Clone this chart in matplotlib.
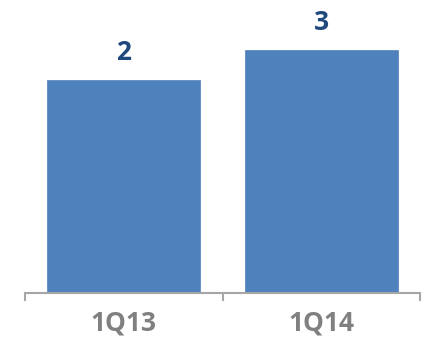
import matplotlib
matplotlib.use("Agg")
import matplotlib.pyplot as plt
import numpy as np

categories = ["1Q13", "1Q14"]
values = [2, 3]
value_labels = ["2", "3"]

# baseline of the value axis (axis is not zero-based)
base = -5.1

fig = plt.figure(figsize=(4.25, 3.38), dpi=100)
ax = fig.add_axes([25 / 425, 45 / 338, 395 / 425, 293 / 338])

x = np.arange(len(categories))
heights = [v - base for v in values]
bars = ax.bar(x, heights, bottom=base, width=0.775, color="#4F81BD",
              edgecolor="#4F81BD", linewidth=0.5)

for xi, v, lab in zip(x, values, value_labels):
    ax.annotate(lab, (xi, v), xytext=(0, 10), textcoords="offset points",
                ha="center", va="bottom", fontsize=19, fontweight="bold",
                color="#1F497D", family="Open Sans")

ax.set_xlim(-0.5, len(categories) - 0.5)
ax.set_ylim(base, base + 293 / 30)

for s in ["top", "right", "left"]:
    ax.spines[s].set_visible(False)
ax.spines["bottom"].set_color("#A6A6A6")
ax.spines["bottom"].set_linewidth(1.5)
ax.set_yticks([])

ax.set_xticks(x)
ax.set_xticklabels(categories, fontsize=19, fontweight="bold",
                   color="#808080", family="Open Sans")
ax.tick_params(axis="x", which="major", length=0, pad=12)
ax.set_xticks(np.arange(-0.5, len(categories)), minor=True)
ax.tick_params(axis="x", which="minor", length=6, width=1.5,
               color="#A6A6A6", direction="out")

fig.savefig("out.png", dpi=100)
